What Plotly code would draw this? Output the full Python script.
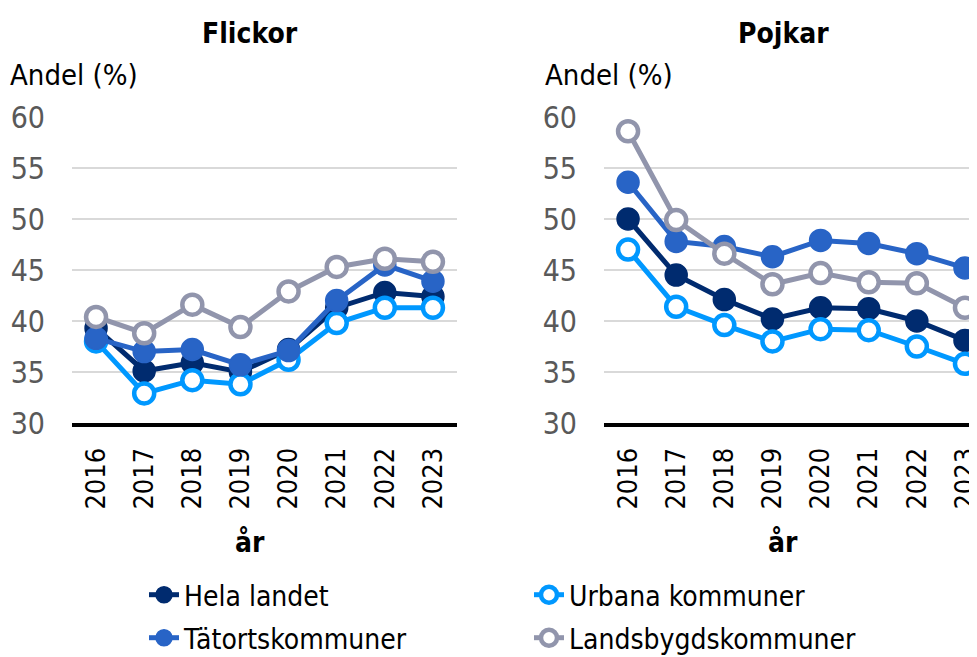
import plotly.graph_objects as go

years = ["2016", "2017", "2018", "2019", "2020", "2021", "2022", "2023"]
y_ticks = [30, 35, 40, 45, 50, 55, 60]

series_names = ["Hela landet", "Urbana kommuner", "Tätortskommuner", "Landsbygdskommuner"]
series_colors = ["#002b6f", "#0098ff", "#2864c6", "#9195ac"]
series_open = [False, True, False, True]
series_legend = ["legend", "legend", "legend2", "legend2"]

flickor_hela = [39.3, 35.1, 35.9, 35.0, 37.2, 41.3, 42.8, 42.4]
flickor_urbana = [38.0, 32.9, 34.2, 33.8, 36.2, 39.8, 41.3, 41.3]
flickor_tatort = [38.3, 37.0, 37.2, 35.7, 37.1, 42.0, 45.5, 43.9]
flickor_lands = [40.4, 38.8, 41.6, 39.4, 42.9, 45.3, 46.1, 45.8]

pojkar_hela = [50.0, 44.5, 42.1, 40.2, 41.3, 41.2, 40.0, 38.1]
pojkar_urbana = [47.0, 41.4, 39.6, 38.0, 39.2, 39.1, 37.5, 35.8]
pojkar_tatort = [53.6, 47.8, 47.3, 46.3, 47.9, 47.6, 46.6, 45.2]
pojkar_lands = [58.6, 49.9, 46.6, 43.6, 44.7, 43.8, 43.7, 41.3]

flickor = [flickor_hela, flickor_urbana, flickor_tatort, flickor_lands]
pojkar = [pojkar_hela, pojkar_urbana, pojkar_tatort, pojkar_lands]

FONT = "Liberation Sans Narrow, Arial Narrow, DejaVu Sans Condensed, Liberation Sans, sans-serif"
# page body has an 8px margin, so the figure is drawn 8px smaller and offset
OFF = 8
W, H = 977 - OFF, 657 - OFF
ML, MR, MT, MB = 72 - OFF, 0, 117 - OFF, 234
PW = W - ML - MR
PH = H - MT - MB


def px(x):  # screen x -> paper
    return (x - OFF - ML) / PW


def py(y):  # screen y -> paper
    return (H - MB - (y - OFF)) / PH


fig = go.Figure()

for panel, data in (("x", flickor), ("x2", pojkar)):
    for i, vals in enumerate(data):
        col = series_colors[i]
        if series_open[i]:
            marker = dict(size=20, color="white", line=dict(color=col, width=4.5))
        else:
            marker = dict(size=22, color=col, line=dict(color=col, width=1.5))
        fig.add_trace(go.Scatter(
            x=years, y=vals, mode="lines+markers",
            name=series_names[i], legendgroup=series_names[i],
            legend=series_legend[i],
            showlegend=(panel == "x"),
            line=dict(color=col, width=5),
            marker=marker,
            xaxis=panel, yaxis="y" if panel == "x" else "y2",
        ))

axis_common = dict(
    type="category", showgrid=False, zeroline=False, automargin=False,
    showline=True, linecolor="black", linewidth=4,
    ticks="", tickangle=-90, ticklabelstandoff=10,
    tickfont=dict(family=FONT, size=27, color="black"),
)
yaxis_common = dict(
    range=[30, 60], tickvals=y_ticks, showgrid=True, gridcolor="#d9d9d9", gridwidth=2,
    zeroline=False, showline=False, ticks="", ticklabelstandoff=26, automargin=False,
    tickfont=dict(family=FONT, size=30, color="#595959"),
)

legend_common = dict(
    orientation="h", xanchor="left", yanchor="top",
    entrywidth=340, entrywidthmode="pixels",
    font=dict(family=FONT, size=28, color="black"),
    itemsizing="trace", tracegroupgap=0, bgcolor="rgba(0,0,0,0)",
)

fig.update_layout(
    width=W, height=H,
    margin=dict(l=ML, r=MR, t=MT, b=MB, autoexpand=False),
    plot_bgcolor="white", paper_bgcolor="white",
    font=dict(family=FONT, size=28, color="black"),
    xaxis=dict(domain=[0, px(457)], range=[-0.5, 7.5], anchor="y", **axis_common),
    xaxis2=dict(domain=[px(604), 1], range=[-0.5, 7.25], anchor="y2", **axis_common),
    yaxis=dict(anchor="x", **yaxis_common),
    yaxis2=dict(anchor="x2", **yaxis_common),
    legend=dict(x=px(144), y=py(570), **legend_common),
    legend2=dict(x=px(144), y=py(613), **legend_common),
    showlegend=True,
)

annots = [
    dict(text="<b>Flickor</b>", x=px(250), y=py(33), size=28, xanchor="center"),
    dict(text="<b>Pojkar</b>", x=px(783), y=py(33), size=28, xanchor="center"),
    dict(text="Andel (%)", x=px(8), y=py(75), size=29, xanchor="left"),
    dict(text="Andel (%)", x=px(543), y=py(75), size=29, xanchor="left"),
    dict(text="<b>år</b>", x=px(250), y=py(542), size=28, xanchor="center"),
    dict(text="<b>år</b>", x=px(783), y=py(542), size=28, xanchor="center"),
]
for a in annots:
    fig.add_annotation(
        text=a["text"], x=a["x"], y=a["y"], xref="paper", yref="paper",
        xanchor=a["xanchor"], yanchor="middle", showarrow=False,
        font=dict(family=FONT, size=a["size"], color="black"),
    )

fig.write_html("out.html")
